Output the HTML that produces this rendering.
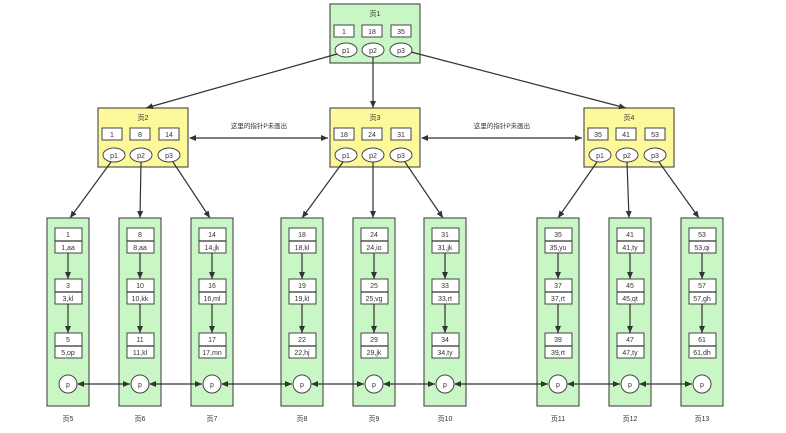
<!DOCTYPE html>
<html><head><meta charset="utf-8"><style>
html,body{margin:0;padding:0;background:#fff}
svg{display:block}
text{font-family:"Liberation Sans","Noto Sans CJK SC",sans-serif;font-size:7px;fill:#333;text-anchor:middle}
.g{fill:#c8f7c5;stroke:#555;stroke-width:1.2}
.y{fill:#fdf89a;stroke:#555;stroke-width:1.2}
.k{fill:#fff;stroke:#444;stroke-width:1}
.l{stroke:#333;stroke-width:1.2;fill:none}
</style></head><body>
<svg width="786" height="433" viewBox="0 0 786 433" xmlns="http://www.w3.org/2000/svg">
<defs>
<marker id="a" markerWidth="8" markerHeight="8" refX="7" refY="4" orient="auto" markerUnits="userSpaceOnUse"><path d="M0,1 L7,4 L0,7 Z" fill="#333"/></marker>
<marker id="s" markerWidth="8" markerHeight="8" refX="1" refY="4" orient="auto" markerUnits="userSpaceOnUse"><path d="M7,1 L0,4 L7,7 Z" fill="#333"/></marker>
</defs>
<!-- page1 -->
<rect class="g" x="330" y="4" width="90" height="59"/>
<text x="375" y="16">页1</text>
<rect class="k" x="334" y="25" width="20" height="12"/><text x="344" y="34">1</text>
<rect class="k" x="362" y="25" width="20" height="12"/><text x="372" y="34">18</text>
<rect class="k" x="391" y="25" width="20" height="12"/><text x="401" y="34">35</text>
<ellipse class="k" cx="346" cy="50" rx="11" ry="7"/><text x="346" y="53">p1</text>
<ellipse class="k" cx="373" cy="50" rx="11" ry="7"/><text x="373" y="53">p2</text>
<ellipse class="k" cx="401" cy="50" rx="11" ry="7"/><text x="401" y="53">p3</text>
<!-- page2 -->
<rect class="y" x="98" y="108" width="90" height="59"/>
<text x="143" y="120">页2</text>
<rect class="k" x="102" y="128" width="20" height="12"/><text x="112" y="137">1</text>
<rect class="k" x="130" y="128" width="20" height="12"/><text x="140" y="137">8</text>
<rect class="k" x="159" y="128" width="20" height="12"/><text x="169" y="137">14</text>
<ellipse class="k" cx="114" cy="155" rx="11" ry="7"/><text x="114" y="158">p1</text>
<ellipse class="k" cx="141" cy="155" rx="11" ry="7"/><text x="141" y="158">p2</text>
<ellipse class="k" cx="169" cy="155" rx="11" ry="7"/><text x="169" y="158">p3</text>
<!-- page3 -->
<rect class="y" x="330" y="108" width="90" height="59"/>
<text x="375" y="120">页3</text>
<rect class="k" x="334" y="128" width="20" height="12"/><text x="344" y="137">18</text>
<rect class="k" x="362" y="128" width="20" height="12"/><text x="372" y="137">24</text>
<rect class="k" x="391" y="128" width="20" height="12"/><text x="401" y="137">31</text>
<ellipse class="k" cx="346" cy="155" rx="11" ry="7"/><text x="346" y="158">p1</text>
<ellipse class="k" cx="373" cy="155" rx="11" ry="7"/><text x="373" y="158">p2</text>
<ellipse class="k" cx="401" cy="155" rx="11" ry="7"/><text x="401" y="158">p3</text>
<!-- page4 -->
<rect class="y" x="584" y="108" width="90" height="59"/>
<text x="629" y="120">页4</text>
<rect class="k" x="588" y="128" width="20" height="12"/><text x="598" y="137">35</text>
<rect class="k" x="616" y="128" width="20" height="12"/><text x="626" y="137">41</text>
<rect class="k" x="645" y="128" width="20" height="12"/><text x="655" y="137">53</text>
<ellipse class="k" cx="600" cy="155" rx="11" ry="7"/><text x="600" y="158">p1</text>
<ellipse class="k" cx="627" cy="155" rx="11" ry="7"/><text x="627" y="158">p2</text>
<ellipse class="k" cx="655" cy="155" rx="11" ry="7"/><text x="655" y="158">p3</text>
<!-- top arrows -->
<line class="l" x1="337" y1="54" x2="146" y2="108" marker-end="url(#a)"/>
<line class="l" x1="373" y1="57" x2="373" y2="108" marker-end="url(#a)"/>
<line class="l" x1="411" y1="52" x2="626" y2="108" marker-end="url(#a)"/>
<line class="l" x1="190" y1="138" x2="328" y2="138" marker-start="url(#s)" marker-end="url(#a)"/>
<line class="l" x1="422" y1="138" x2="582" y2="138" marker-start="url(#s)" marker-end="url(#a)"/>
<text x="259" y="128" style="font-size:6.5px">这里的指针P未画出</text>
<text x="502" y="128" style="font-size:6.5px">这里的指针P未画出</text>
<!-- page to leaf arrows -->
<line class="l" x1="111" y1="162" x2="70" y2="218" marker-end="url(#a)"/>
<line class="l" x1="141" y1="162" x2="140" y2="218" marker-end="url(#a)"/>
<line class="l" x1="173" y1="162" x2="210" y2="218" marker-end="url(#a)"/>
<line class="l" x1="343" y1="162" x2="302" y2="218" marker-end="url(#a)"/>
<line class="l" x1="373" y1="162" x2="373" y2="218" marker-end="url(#a)"/>
<line class="l" x1="405" y1="162" x2="443" y2="218" marker-end="url(#a)"/>
<line class="l" x1="597" y1="162" x2="558" y2="218" marker-end="url(#a)"/>
<line class="l" x1="627" y1="162" x2="629" y2="218" marker-end="url(#a)"/>
<line class="l" x1="659" y1="162" x2="699" y2="218" marker-end="url(#a)"/>
<!-- leaves -->
<g id="L5">
<rect class="g" x="47" y="218" width="42" height="188"/>
<rect class="k" x="55" y="228" width="27" height="25"/><line class="l" x1="55" y1="241" x2="82" y2="241"/><text x="68" y="237">1</text><text x="68" y="250">1,aa</text>
<rect class="k" x="55" y="279" width="27" height="25"/><line class="l" x1="55" y1="292" x2="82" y2="292"/><text x="68" y="288">3</text><text x="68" y="301">3,kl</text>
<rect class="k" x="55" y="333" width="27" height="25"/><line class="l" x1="55" y1="346" x2="82" y2="346"/><text x="68" y="342">5</text><text x="68" y="355">5,op</text>
<line class="l" x1="68" y1="253" x2="68" y2="279" marker-end="url(#a)"/><line class="l" x1="68" y1="304" x2="68" y2="333" marker-end="url(#a)"/>
<circle class="k" cx="68" cy="384" r="9"/><text x="68" y="387">p</text>
<text x="68" y="421">页5</text>
</g>
<g>
<rect class="g" x="119" y="218" width="42" height="188"/>
<rect class="k" x="127" y="228" width="27" height="25"/><line class="l" x1="127" y1="241" x2="154" y2="241"/><text x="140" y="237">8</text><text x="140" y="250">8,aa</text>
<rect class="k" x="127" y="279" width="27" height="25"/><line class="l" x1="127" y1="292" x2="154" y2="292"/><text x="140" y="288">10</text><text x="140" y="301">10,kk</text>
<rect class="k" x="127" y="333" width="27" height="25"/><line class="l" x1="127" y1="346" x2="154" y2="346"/><text x="140" y="342">11</text><text x="140" y="355">11,kl</text>
<line class="l" x1="140" y1="253" x2="140" y2="279" marker-end="url(#a)"/><line class="l" x1="140" y1="304" x2="140" y2="333" marker-end="url(#a)"/>
<circle class="k" cx="140" cy="384" r="9"/><text x="140" y="387">p</text>
<text x="140" y="421">页6</text>
</g>
<g>
<rect class="g" x="191" y="218" width="42" height="188"/>
<rect class="k" x="199" y="228" width="27" height="25"/><line class="l" x1="199" y1="241" x2="226" y2="241"/><text x="212" y="237">14</text><text x="212" y="250">14,jk</text>
<rect class="k" x="199" y="279" width="27" height="25"/><line class="l" x1="199" y1="292" x2="226" y2="292"/><text x="212" y="288">16</text><text x="212" y="301">16,ml</text>
<rect class="k" x="199" y="333" width="27" height="25"/><line class="l" x1="199" y1="346" x2="226" y2="346"/><text x="212" y="342">17</text><text x="212" y="355">17,mn</text>
<line class="l" x1="212" y1="253" x2="212" y2="279" marker-end="url(#a)"/><line class="l" x1="212" y1="304" x2="212" y2="333" marker-end="url(#a)"/>
<circle class="k" cx="212" cy="384" r="9"/><text x="212" y="387">p</text>
<text x="212" y="421">页7</text>
</g>
<g>
<rect class="g" x="281" y="218" width="42" height="188"/>
<rect class="k" x="289" y="228" width="27" height="25"/><line class="l" x1="289" y1="241" x2="316" y2="241"/><text x="302" y="237">18</text><text x="302" y="250">18,kl</text>
<rect class="k" x="289" y="279" width="27" height="25"/><line class="l" x1="289" y1="292" x2="316" y2="292"/><text x="302" y="288">19</text><text x="302" y="301">19,kl</text>
<rect class="k" x="289" y="333" width="27" height="25"/><line class="l" x1="289" y1="346" x2="316" y2="346"/><text x="302" y="342">22</text><text x="302" y="355">22,hj</text>
<line class="l" x1="302" y1="253" x2="302" y2="279" marker-end="url(#a)"/><line class="l" x1="302" y1="304" x2="302" y2="333" marker-end="url(#a)"/>
<circle class="k" cx="302" cy="384" r="9"/><text x="302" y="387">p</text>
<text x="302" y="421">页8</text>
</g>
<g>
<rect class="g" x="353" y="218" width="42" height="188"/>
<rect class="k" x="361" y="228" width="27" height="25"/><line class="l" x1="361" y1="241" x2="388" y2="241"/><text x="374" y="237">24</text><text x="374" y="250">24,io</text>
<rect class="k" x="361" y="279" width="27" height="25"/><line class="l" x1="361" y1="292" x2="388" y2="292"/><text x="374" y="288">25</text><text x="374" y="301">25,vg</text>
<rect class="k" x="361" y="333" width="27" height="25"/><line class="l" x1="361" y1="346" x2="388" y2="346"/><text x="374" y="342">29</text><text x="374" y="355">29,jk</text>
<line class="l" x1="374" y1="253" x2="374" y2="279" marker-end="url(#a)"/><line class="l" x1="374" y1="304" x2="374" y2="333" marker-end="url(#a)"/>
<circle class="k" cx="374" cy="384" r="9"/><text x="374" y="387">p</text>
<text x="374" y="421">页9</text>
</g>
<g>
<rect class="g" x="424" y="218" width="42" height="188"/>
<rect class="k" x="432" y="228" width="27" height="25"/><line class="l" x1="432" y1="241" x2="459" y2="241"/><text x="445" y="237">31</text><text x="445" y="250">31,jk</text>
<rect class="k" x="432" y="279" width="27" height="25"/><line class="l" x1="432" y1="292" x2="459" y2="292"/><text x="445" y="288">33</text><text x="445" y="301">33,rt</text>
<rect class="k" x="432" y="333" width="27" height="25"/><line class="l" x1="432" y1="346" x2="459" y2="346"/><text x="445" y="342">34</text><text x="445" y="355">34,ty</text>
<line class="l" x1="445" y1="253" x2="445" y2="279" marker-end="url(#a)"/><line class="l" x1="445" y1="304" x2="445" y2="333" marker-end="url(#a)"/>
<circle class="k" cx="445" cy="384" r="9"/><text x="445" y="387">p</text>
<text x="445" y="421">页10</text>
</g>
<g>
<rect class="g" x="537" y="218" width="42" height="188"/>
<rect class="k" x="545" y="228" width="27" height="25"/><line class="l" x1="545" y1="241" x2="572" y2="241"/><text x="558" y="237">35</text><text x="558" y="250">35,yu</text>
<rect class="k" x="545" y="279" width="27" height="25"/><line class="l" x1="545" y1="292" x2="572" y2="292"/><text x="558" y="288">37</text><text x="558" y="301">37,rt</text>
<rect class="k" x="545" y="333" width="27" height="25"/><line class="l" x1="545" y1="346" x2="572" y2="346"/><text x="558" y="342">39</text><text x="558" y="355">39,rt</text>
<line class="l" x1="558" y1="253" x2="558" y2="279" marker-end="url(#a)"/><line class="l" x1="558" y1="304" x2="558" y2="333" marker-end="url(#a)"/>
<circle class="k" cx="558" cy="384" r="9"/><text x="558" y="387">p</text>
<text x="558" y="421">页11</text>
</g>
<g>
<rect class="g" x="609" y="218" width="42" height="188"/>
<rect class="k" x="617" y="228" width="27" height="25"/><line class="l" x1="617" y1="241" x2="644" y2="241"/><text x="630" y="237">41</text><text x="630" y="250">41,ty</text>
<rect class="k" x="617" y="279" width="27" height="25"/><line class="l" x1="617" y1="292" x2="644" y2="292"/><text x="630" y="288">45</text><text x="630" y="301">45,qt</text>
<rect class="k" x="617" y="333" width="27" height="25"/><line class="l" x1="617" y1="346" x2="644" y2="346"/><text x="630" y="342">47</text><text x="630" y="355">47,ty</text>
<line class="l" x1="630" y1="253" x2="630" y2="279" marker-end="url(#a)"/><line class="l" x1="630" y1="304" x2="630" y2="333" marker-end="url(#a)"/>
<circle class="k" cx="630" cy="384" r="9"/><text x="630" y="387">p</text>
<text x="630" y="421">页12</text>
</g>
<g>
<rect class="g" x="681" y="218" width="42" height="188"/>
<rect class="k" x="689" y="228" width="27" height="25"/><line class="l" x1="689" y1="241" x2="716" y2="241"/><text x="702" y="237">53</text><text x="702" y="250">53,qi</text>
<rect class="k" x="689" y="279" width="27" height="25"/><line class="l" x1="689" y1="292" x2="716" y2="292"/><text x="702" y="288">57</text><text x="702" y="301">57,gh</text>
<rect class="k" x="689" y="333" width="27" height="25"/><line class="l" x1="689" y1="346" x2="716" y2="346"/><text x="702" y="342">61</text><text x="702" y="355">61,dh</text>
<line class="l" x1="702" y1="253" x2="702" y2="279" marker-end="url(#a)"/><line class="l" x1="702" y1="304" x2="702" y2="333" marker-end="url(#a)"/>
<circle class="k" cx="702" cy="384" r="9"/><text x="702" y="387">p</text>
<text x="702" y="421">页13</text>
</g>
<!-- leaf links -->
<line class="l" x1="78" y1="384" x2="130" y2="384" marker-start="url(#s)" marker-end="url(#a)"/>
<line class="l" x1="150" y1="384" x2="202" y2="384" marker-start="url(#s)" marker-end="url(#a)"/>
<line class="l" x1="222" y1="384" x2="292" y2="384" marker-start="url(#s)" marker-end="url(#a)"/>
<line class="l" x1="312" y1="384" x2="364" y2="384" marker-start="url(#s)" marker-end="url(#a)"/>
<line class="l" x1="384" y1="384" x2="435" y2="384" marker-start="url(#s)" marker-end="url(#a)"/>
<line class="l" x1="455" y1="384" x2="548" y2="384" marker-start="url(#s)" marker-end="url(#a)"/>
<line class="l" x1="568" y1="384" x2="620" y2="384" marker-start="url(#s)" marker-end="url(#a)"/>
<line class="l" x1="640" y1="384" x2="692" y2="384" marker-start="url(#s)" marker-end="url(#a)"/>
</svg>
</body></html>
